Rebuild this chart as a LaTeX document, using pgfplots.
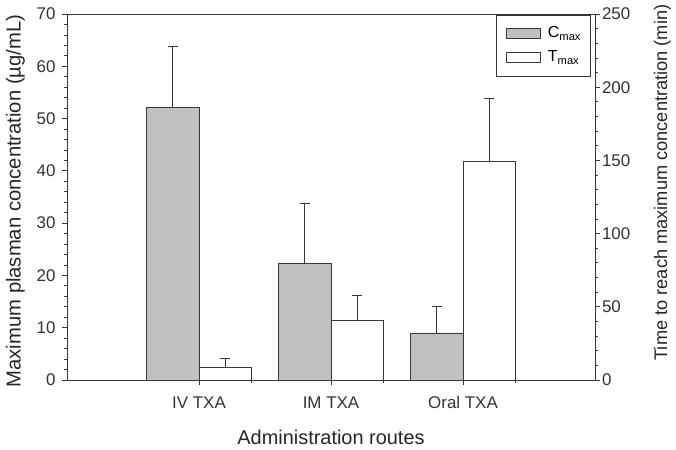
\documentclass[border=0pt]{standalone}
\usepackage{fontspec}
\setmainfont{Liberation Sans}
\usepackage{pgfplots}
\pgfplotsset{compat=1.18}

\definecolor{linecol}{RGB}{55,55,55}
\definecolor{barfill}{RGB}{192,192,192}

% mean and SD of the peak concentration (left axis) and of the time to peak (right axis);
% routes sit at 1, 2, 3 and each pair of bars straddles its route
\pgfplotstableread{
x    cmax  cerr
0.8  52.1  11.6
1.8  22.3  11.4
2.8   9.0   5.1
}\cmaxdata
\pgfplotstableread{
x    tmax  terr
1.2    8.7   6.1
2.2   40.8  17.1
3.2  149.6  42.4
}\tmaxdata

\pgfplotsset{
  common/.style={
    scale only axis,
    width=528bp, height=366bp,
    xmin=0, xmax=4,
    axis line style={linecol, line width=0.9pt},
    every tick/.style={linecol, line width=0.8pt},
    tick align=outside,
    major tick length=5bp,
    minor tick length=3bp,
    /pgf/number format/assume math mode=true,
    tick label style={font=\fontsize{17}{19}\selectfont, text=black!80},
    label style={text=black!85, inner sep=0pt},
  },
  barstyle/.style={
    ybar, bar width=0.4, bar shift=0,
    draw=linecol, line width=0.9pt,
    error bars/y dir=plus,
    error bars/y explicit,
    error bars/error mark=-,
    error bars/error bar style={linecol, line width=0.9pt},
    error bars/error mark options={linecol, line width=0.9pt, mark size=5bp, rotate=90},
  },
}

\begin{document}
\begin{tikzpicture}
\begin{axis}[
  common,
  name=main,
  ymin=0, ymax=70,
  ytick distance=10,
  minor y tick num=4,
  ytick pos=left,
  xtick pos=bottom,
  xtick={1,2,3},
  xticklabels={IV TXA, IM TXA, Oral TXA},
  minor xtick={1.4,2.4,3.4},
  yticklabel style={xshift=-3bp},
  xticklabel style={yshift=-8bp},
  xlabel={Administration routes},
  ylabel={Maximum plasman concentration (µg/mL)},
  xlabel style={font=\fontsize{20}{22}\selectfont,
    at={(rel axis cs:0.5,0)}, anchor=north, yshift=-50bp},
  % the label is turned by 90 degrees, so its yshift moves it sideways
  ylabel style={font=\fontsize{20.3}{22}\selectfont,
    at={(rel axis cs:0,0.5)}, anchor=center, yshift=51.5bp, xshift=-4bp},
]
\addplot[barstyle, fill=barfill]
  table[x=x, y=cmax, y error=cerr] {\cmaxdata};
\end{axis}

\begin{axis}[
  common,
  axis x line=none,
  axis y line*=right,
  ymin=0, ymax=250,
  ytick distance=50,
  minor y tick num=4,
  yticklabel style={xshift=-1.5bp},
  ylabel={Time to reach maximum concentration (min)},
  ylabel style={font=\fontsize{18.3}{20}\selectfont,
    at={(rel axis cs:1,0.5)}, anchor=center, xshift=14.5bp, yshift=-67.5bp},
  legend style={
    at={(rel axis cs:1,1)}, anchor=north east, xshift=-4bp, yshift=-1bp,
    draw=linecol, line width=0.9pt,
    font=\fontsize{16}{18}\selectfont,
    inner xsep=9.5bp, inner ysep=10.5bp,
    row sep=8bp,
    nodes={inner sep=0pt, text height=12bp, text depth=4bp},
    /tikz/every odd column/.append style={column sep=7bp},
    legend cell align=left,
  },
  legend image code/.code={
    \draw[#1, line width=0.9pt] (0bp,-5bp) rectangle (34bp,5bp);
  },
]
\addlegendimage{draw=linecol, fill=barfill}
\addlegendentry{C\textsubscript{max}}
\addplot[barstyle, fill=white]
  table[x=x, y=tmax, y error=terr] {\tmaxdata};
\addlegendentry{T\textsubscript{max}}
\end{axis}

\pgfresetboundingbox
\path ([xshift=-67bp,yshift=-69bp]main.south west)
  rectangle ([xshift=81bp,yshift=14bp]main.north east);
\end{tikzpicture}
\end{document}
